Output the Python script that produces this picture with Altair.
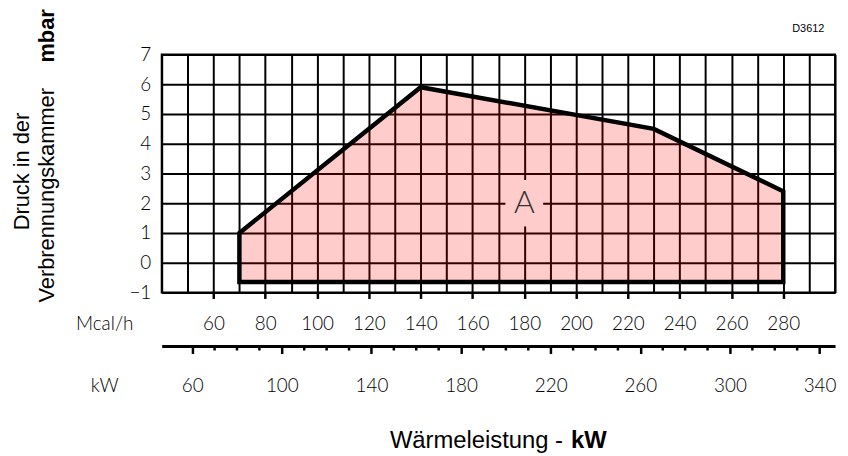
import altair as alt
import pandas as pd

# ---- data ----
mcal_points = [70, 140, 230, 280]          # heat output, Mcal/h
pressure_top = [1.0, 5.9, 4.5, 2.4]        # upper boundary, mbar
pressure_bottom = [-0.65, -0.65, -0.65, -0.65]  # lower boundary, mbar

region_label = ["A"]
region_mcal = [180]
region_pressure = [2]

mcal_grid = list(range(40, 301, 10))       # grid every 10 Mcal/h, labelled 60..280
pressure_ticks = list(range(-1, 8))        # -1 .. 7 mbar
kw_major = list(range(60, 341, 40))        # 60 .. 340 kW
kw_minor = [v for v in range(70, 331, 10) if v not in kw_major]

MCAL_DOMAIN = [40, 300]
KW_DOMAIN = [46.4, 346.9]
Y_DOMAIN = [-1, 7]

LIGHT = "Lato"
LW = 300
SANS = "Liberation Sans"

poly = pd.DataFrame({"mcal": mcal_points, "top": pressure_top, "bottom": pressure_bottom})
region = pd.DataFrame({"mcal": region_mcal, "top": region_pressure, "label": region_label})

xs = alt.Scale(domain=MCAL_DOMAIN, nice=False, zero=False)
ys = alt.Scale(domain=Y_DOMAIN, nice=False, zero=False)

tick_test = "datum.value % 20 == 0 && datum.value >= 60 && datum.value <= 280"

x_axis = alt.Axis(
    values=mcal_grid, grid=True, gridColor="black", gridWidth=2, gridOpacity=1,
    domain=False, tickColor="black", tickWidth=2.5, tickSize=6,
    tickOpacity={"condition": {"test": tick_test, "value": 1}, "value": 0},
    labelExpr="(" + tick_test + ") ? datum.label : ''",
    labelFont=LIGHT, labelFontWeight=LW, labelFontSize=19, labelColor="black",
    labelBaseline="middle", labelPadding=25.7, labelOverlap=False, labelFlush=False,
    title="Mcal/h", titleX=-58, titleY=31.7, titleAngle=0, titleAlign="center",
    titleBaseline="middle", titleFont=LIGHT, titleFontWeight=LW, titleFontSize=19,
    titleColor="black",
)
y_axis = alt.Axis(
    values=pressure_ticks, grid=True, gridColor="black", gridWidth=2, gridOpacity=1,
    domain=False, ticks=False, labelPadding=11,
    labelFont=LIGHT, labelFontWeight=LW, labelFontSize=19, labelColor="black",
    title="",
)

X = alt.X("mcal:Q", scale=xs, axis=x_axis)
Y = alt.Y("top:Q", scale=ys, axis=y_axis)

area = alt.Chart(poly).mark_area(
    fill="#FF0000", fillOpacity=0.2, stroke="black", strokeWidth=4.5, strokeJoin="miter"
).encode(x=X, y=Y, y2="bottom:Q")

abox = alt.Chart(region).mark_point(
    shape="M-0.81,-1L0.81,-1L0.81,1L-0.81,1Z", filled=True, color="#FFCCCC",
    opacity=1, size=2209, strokeWidth=0,
).encode(x=X, y=Y)

atext = alt.Chart(region).mark_text(
    font=LIGHT, fontWeight=LW, fontSize=32, color="#333333", baseline="middle", align="center"
).encode(x=X, y=Y, text="label:N")

main = alt.layer(area, abox, atext)

kw_axis = alt.Axis(
    values=kw_major, orient="bottom", offset=54, grid=False,
    domain=True, domainColor="black", domainWidth=3,
    tickColor="black", tickWidth=2.5, tickSize=7.5,
    labelFont=LIGHT, labelFontWeight=LW, labelFontSize=19, labelColor="black",
    labelBaseline="middle", labelPadding=32.2, labelOverlap=False, labelFlush=False,
    title="kW", titleX=-58, titleY=39.7, titleAngle=0, titleAlign="center",
    titleBaseline="middle", titleFont=LIGHT, titleFontWeight=LW, titleFontSize=19,
    titleColor="black",
)
kw_layer = alt.Chart(pd.DataFrame({"kw": kw_minor})).mark_rule(
    color="black", strokeWidth=2.5
).encode(
    x=alt.X("kw:Q", scale=alt.Scale(domain=KW_DOMAIN, nice=False, zero=False), axis=kw_axis),
    y=alt.value(294), y2=alt.value(298.5),
)


def label(text, x, y, size, weight="normal", angle=0, align="center", baseline="middle"):
    return alt.Chart(pd.DataFrame({"t": [text]})).mark_text(
        font=SANS, fontSize=size, fontWeight=weight, angle=angle, align=align,
        baseline=baseline, color="black",
    ).encode(text="t:N", x=alt.value(x), y=alt.value(y))


texts = [
    label("Druck in der", -134, 118, 22, angle=270, baseline="alphabetic"),
    label("Verbrennungskammer", -108.3, 142, 22, angle=270, baseline="alphabetic"),
    label("mbar", -108.3, -18.8, 22, weight="bold", angle=270, baseline="alphabetic"),
    label("Wärmeleistung -", 404.7, 396.7, 24, align="right", baseline="alphabetic"),
    label("kW", 412.7, 396.7, 24, weight="bold", align="left", baseline="alphabetic"),
    label("D3612", 652, -26, 11),
]

chart = alt.layer(main, kw_layer, *texts).resolve_scale(x="independent").properties(
    width=679, height=240,
    autosize=alt.AutoSizeParams(type="none"),
    padding={"left": 155, "top": 45, "right": 5, "bottom": 163},
).configure_view(stroke="black", strokeWidth=2)

chart.save("out.html", embed_options={"renderer": "svg", "actions": False})
